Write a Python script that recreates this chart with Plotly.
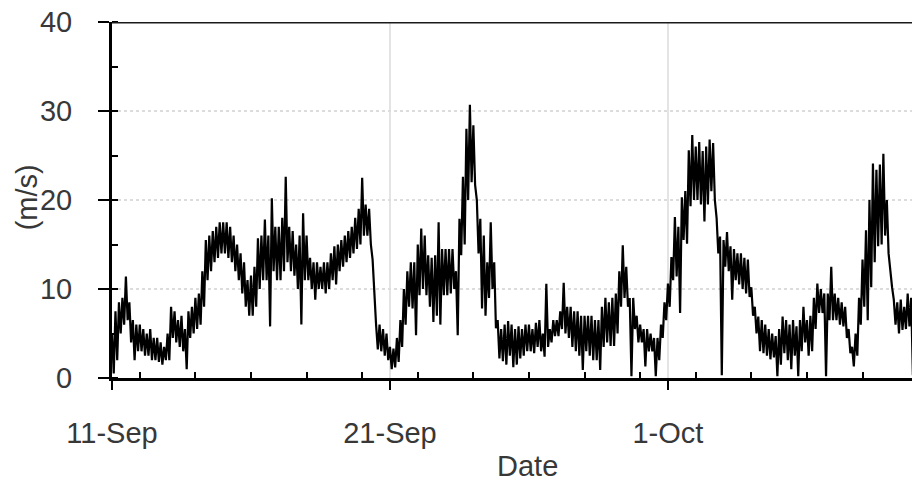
import pandas as pd
import plotly.graph_objects as go

# Wind speed (m/s). For every 3-hour block starting 11 Sep 00:00 the gust
# peak (upper) and the lull (lower) are listed; the lull is logged 90 minutes
# after the peak, so the two lists interleave into one 90-minute series.
start_date = "2012-09-11"
step = "90min"

upper_sep11 = [
    5, 7.5, 8.5, 9, 11.4, 8.5, 6.5, 6,            # 11 Sep
    6, 5.5, 5, 5.5, 4.5, 4.5, 4, 3.5,             # 12 Sep
    5, 8, 7.5, 6.5, 7, 5.5, 7.5, 8,               # 13 Sep
    9, 9.5, 12, 15.5, 16, 16.5, 17, 17.5,         # 14 Sep
    17.5, 17.5, 17, 16, 15, 14, 13, 11,           # 15 Sep
    11.5, 12.5, 15.7, 16, 17.8, 16, 20.2, 17,     # 16 Sep
    17, 18, 22.6, 17, 16.5, 15, 16, 18.5,         # 17 Sep
]
lower_sep11 = [
    0.5, 2, 5, 6, 6.5, 4, 2, 3,                   # 11 Sep
    3, 2.5, 2.5, 2, 2, 1.8, 1.5, 2,               # 12 Sep
    2, 4.5, 4, 3.5, 3, 1, 4.5, 5,                 # 13 Sep
    5.5, 6, 8, 11, 12, 13, 13.5, 14,              # 14 Sep
    14, 13.5, 13, 12, 11, 9.5, 8, 7,              # 15 Sep
    7, 8, 10, 11, 11, 5.8, 12, 11,                # 16 Sep
    11, 12, 13, 12, 11.5, 10, 6, 11,              # 17 Sep
]
upper_sep18 = [
    16, 13.5, 13, 13, 12.5, 13, 13, 14,           # 18 Sep
    14.8, 15, 15.5, 16, 16.5, 17, 18, 19,         # 19 Sep
    22.5, 19.5, 19, 13.3, 6, 6, 5.5, 5,           # 20 Sep
    3.5, 3.3, 4.5, 6.5, 10, 12, 13, 13,           # 21 Sep
    15, 16.8, 16, 13.8, 13.5, 13.8, 17.5, 14.5,   # 22 Sep
    14.5, 14.5, 14.5, 12, 17.9, 22.6, 28, 30.7,   # 23 Sep
    28.4, 20, 17.9, 16, 13, 17.5, 13, 6.5,        # 24 Sep
]
lower_sep18 = [
    11, 10, 8.8, 10, 10, 9.5, 10, 11,             # 18 Sep
    10.5, 12, 12.5, 13, 13.5, 14, 14.5, 15,       # 19 Sep
    16, 16, 15, 9, 3.2, 3, 2.5, 2,                # 20 Sep
    1, 1.2, 1.8, 3.5, 6, 8, 7.8, 4.8,             # 21 Sep
    9.3, 10, 9.3, 8, 6.3, 7, 6, 9.3,              # 22 Sep
    9.3, 9.5, 10, 4.8, 13.8, 15, 20, 22,          # 23 Sep
    21.7, 14, 7.8, 7, 9, 10, 5.6, 2.2,            # 24 Sep
]
upper_sep25 = [
    5.5, 6, 6.4, 6, 5.5, 5.8, 5.5, 6,             # 25 Sep
    6, 5.5, 6.2, 6.5, 5, 10.6, 5.5, 6.5,          # 26 Sep
    6.5, 7.5, 10.7, 8, 8, 7.5, 7.5, 7,            # 27 Sep
    7, 7, 7, 6.5, 6.5, 8, 9, 8.5,                 # 28 Sep
    9, 9.5, 12, 14.9, 12.5, 9, 9, 7,              # 29 Sep
    6, 5.5, 5.5, 5, 4.5, 4.5, 6, 8.5,             # 30 Sep
    10.6, 13.6, 18.1, 17, 20.3, 21, 25.6, 27.3,   # 1 Oct
]
lower_sep25 = [
    1.9, 1.5, 2.5, 1.2, 1.5, 2.2, 2.5, 3,         # 25 Sep
    3, 2.8, 3.5, 3, 2.4, 3.5, 4, 4.7,             # 26 Sep
    4.7, 5.5, 5, 4.5, 3.5, 3, 2.5, 0.9,           # 27 Sep
    3, 2.5, 2, 2, 0.9, 3.5, 4, 3.6,               # 28 Sep
    3.6, 5, 8, 9, 8, 0.2, 5.5, 4,                 # 29 Sep
    4, 1.3, 3, 3, 0.2, 2, 4.5, 6.5,               # 30 Sep
    8, 11, 11.4, 7.3, 15.5, 15.1, 19.3, 20,       # 1 Oct
]
upper_oct2 = [
    26, 26.5, 25.5, 26, 26.8, 26.4, 18, 15.9,     # 2 Oct
    15.5, 16.4, 14.8, 14.5, 14, 14, 13.5, 13.3,   # 3 Oct
    10.2, 8, 6.9, 6.5, 6, 5.5, 5, 4.7,            # 4 Oct
    5.5, 6.9, 6.5, 6, 6.5, 5.8, 6.5, 8,           # 5 Oct
    6.5, 7, 9, 10.6, 10, 9.5, 9.5, 12.5,          # 6 Oct
    9.5, 9, 8.5, 8, 5.5, 3.5, 5, 9,               # 7 Oct
    13.3, 16.6, 20, 24.1, 23.4, 24, 25.2, 20,     # 8 Oct
]
lower_oct2 = [
    20, 19.5, 17.6, 19.5, 21, 20, 14, 0.3,        # 2 Oct
    12.5, 12, 8.8, 11, 10.5, 10, 9.5, 9.1,        # 3 Oct
    7, 5, 3, 2.8, 2.5, 2.1, 2.3, 0.2,             # 4 Oct
    1.5, 2.8, 2, 1, 2.5, 0.2, 3, 4,               # 5 Oct
    2.5, 3, 5.5, 7.3, 7.3, 0.2, 6.5, 6.5,         # 6 Oct
    6.5, 6, 5.8, 4.5, 2.8, 1.3, 2.5, 6,           # 7 Oct
    8, 6.5, 10.2, 13, 14.8, 15, 16, 14,           # 8 Oct
]
upper_oct9 = [11.7, 8.8, 8.5, 8.8, 8, 9.5, 9, 10.2]
lower_oct9 = [10.2, 6, 5, 5.4, 5.5, 5.8, 0.3, 8]

upper = upper_sep11 + upper_sep18 + upper_sep25 + upper_oct2 + upper_oct9
lower = lower_sep11 + lower_sep18 + lower_sep25 + lower_oct2 + lower_oct9

speed = []
for hi, lo in zip(upper, lower):
    speed.extend([hi, lo])
times = pd.date_range(start=start_date, periods=len(speed), freq=step)

x_start = pd.Timestamp(start_date)
x_end = x_start + pd.Timedelta(days=28.78)

font_family = "Arial, 'Liberation Sans', sans-serif"
text_color = "#383838"

fig = go.Figure()
fig.add_trace(go.Scatter(
    x=times, y=speed, mode="lines",
    line=dict(color="black", width=2.2),
    hoverinfo="skip", showlegend=False,
))

fig.update_layout(
    width=912, height=484,
    margin=dict(l=112, r=0, t=22, b=106),
    paper_bgcolor="white", plot_bgcolor="white",
    font=dict(family=font_family, size=29, color=text_color),
    xaxis=dict(
        type="date",
        range=[x_start, x_end],
        tick0=start_date, dtick=10 * 24 * 3600 * 1000,
        tickformat="%-d-%b",
        ticks="outside", ticklen=9, tickwidth=2, tickcolor="black",
        ticklabelstandoff=18,
        showline=True, linecolor="black", linewidth=3,
        showgrid=True, gridcolor="#e4e4e4", gridwidth=1.5,
        zeroline=False,
        minor=dict(ticks="inside", ticklen=6, tickwidth=2, tickcolor="black",
                   dtick=2 * 24 * 3600 * 1000, showgrid=False),
        tickfont=dict(size=29, color=text_color),
    ),
    yaxis=dict(
        range=[0, 40], dtick=10,
        ticks="outside", ticklen=11, tickwidth=2, tickcolor="black",
        ticklabelstandoff=20,
        showline=True, linecolor="black", linewidth=3,
        showgrid=True, gridcolor="#dcdcdc", gridwidth=1.5, griddash="dot",
        zeroline=False,
        minor=dict(ticks="inside", ticklen=6, tickwidth=2, tickcolor="black",
                   dtick=5, showgrid=False),
        tickfont=dict(size=29, color=text_color),
    ),
    shapes=[dict(type="line", xref="paper", yref="y", x0=0, x1=1, y0=40, y1=40,
                 line=dict(color="#1a1a1a", width=3), layer="above")],
    annotations=[
        dict(text="Date", xref="paper", yref="paper", x=0.519, y=-0.247,
             xanchor="center", yanchor="middle", showarrow=False,
             font=dict(size=29, color=text_color)),
        dict(text="(m/s)", xref="paper", yref="paper", x=-0.106, y=0.508,
             xanchor="center", yanchor="middle", textangle=-90, showarrow=False,
             font=dict(size=29, color=text_color)),
    ],
)

fig.write_html("out.html")
